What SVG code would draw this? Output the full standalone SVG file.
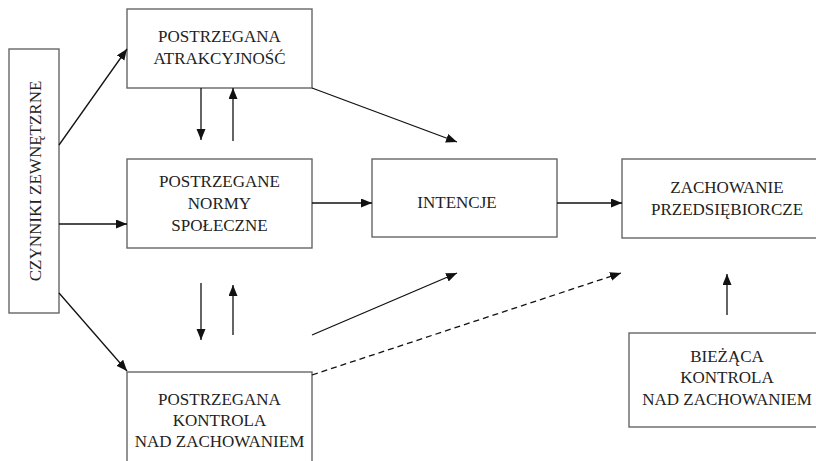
<svg xmlns="http://www.w3.org/2000/svg" width="816" height="461" viewBox="0 0 816 461">
  <defs>
    <marker id="arr" markerUnits="userSpaceOnUse" markerWidth="12" markerHeight="10" refX="11" refY="4.5" orient="auto">
      <path d="M0,0 L11,4.5 L0,9 z" fill="#111"/>
    </marker>
    <style>
      .box { fill: #fff; stroke: #666; stroke-width: 1.4; }
      .t { font-family: "Liberation Serif", "DejaVu Serif", serif; font-size: 17px; fill: #222; text-anchor: middle; }
      .c { stroke: #111; stroke-width: 1.3; fill: none; marker-end: url(#arr); }
      .d { stroke-dasharray: 6 4; }
    </style>
  </defs>
  <rect width="816" height="461" fill="#fff"/>

  <g id="czynniki">
    <rect class="box" x="9" y="49" width="50" height="264"/>
    <text class="t" transform="translate(41,181) rotate(-90)">CZYNNIKI ZEWNĘTZRNE</text>
  </g>
  <g id="atrakcyjnosc">
    <rect class="box" x="127" y="9" width="185" height="79"/>
    <text class="t" x="219.5" y="42">POSTRZEGANA</text>
    <text class="t" x="219.5" y="64">ATRAKCYJNOŚĆ</text>
  </g>
  <g id="normy">
    <rect class="box" x="127" y="159" width="185" height="89"/>
    <text class="t" x="219.5" y="187">POSTRZEGANE</text>
    <text class="t" x="219.5" y="209">NORMY</text>
    <text class="t" x="219.5" y="231">SPOŁECZNE</text>
  </g>
  <g id="kontrola">
    <rect class="box" x="127" y="372" width="185" height="100"/>
    <text class="t" x="219.5" y="405">POSTRZEGANA</text>
    <text class="t" x="219.5" y="426">KONTROLA</text>
    <text class="t" x="219.5" y="447">NAD ZACHOWANIEM</text>
  </g>
  <g id="intencje">
    <rect class="box" x="372" y="159" width="185" height="78"/>
    <text class="t" x="457" y="208">INTENCJE</text>
  </g>
  <g id="zachowanie">
    <rect class="box" x="622" y="159" width="210" height="79"/>
    <text class="t" x="727" y="193">ZACHOWANIE</text>
    <text class="t" x="727" y="215">PRZEDSIĘBIORCZE</text>
  </g>
  <g id="biezaca">
    <rect class="box" x="629" y="333" width="200" height="94"/>
    <text class="t" x="727" y="362">BIEŻĄCA</text>
    <text class="t" x="727" y="383">KONTROLA</text>
    <text class="t" x="727" y="405">NAD ZACHOWANIEM</text>
  </g>

  <g id="connectors">
    <line class="c" x1="59" y1="145" x2="127" y2="49"/>
    <line class="c" x1="59" y1="224" x2="127" y2="224"/>
    <line class="c" x1="59" y1="293" x2="127" y2="371"/>
    <line class="c" x1="201" y1="88" x2="201" y2="140"/>
    <line class="c" x1="233" y1="141" x2="233" y2="88"/>
    <line class="c" x1="201" y1="283" x2="201" y2="340"/>
    <line class="c" x1="233" y1="335" x2="233" y2="285"/>
    <line class="c" x1="312" y1="88" x2="457" y2="142"/>
    <line class="c" x1="312" y1="203" x2="372" y2="203"/>
    <line class="c" x1="312" y1="335" x2="457" y2="273"/>
    <line class="c d" x1="312" y1="375" x2="621" y2="273"/>
    <line class="c" x1="557" y1="203" x2="622" y2="203"/>
    <line class="c" x1="727" y1="315" x2="727" y2="274"/>
  </g>
</svg>
